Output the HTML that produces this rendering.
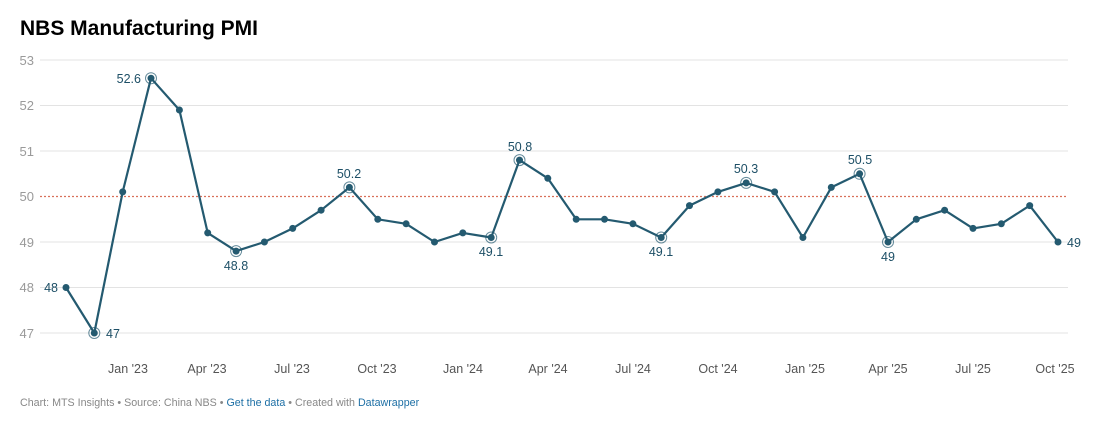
<!DOCTYPE html>
<html><head><meta charset="utf-8"><style>
body{margin:0;background:#fff;width:1105px;height:420px;overflow:hidden;font-family:"Liberation Sans",Arial,sans-serif}
</style></head><body>
<svg width="1105" height="420" xmlns="http://www.w3.org/2000/svg" font-family="Liberation Sans, Arial, sans-serif">
<text x="20" y="35" font-size="21" font-weight="bold" fill="#000">NBS Manufacturing PMI</text>
<g stroke="#e3e3e3" stroke-width="1">
<line x1="40" x2="1068" y1="60" y2="60"/><line x1="40" x2="1068" y1="105.5" y2="105.5"/>
<line x1="40" x2="1068" y1="151" y2="151"/><line x1="40" x2="1068" y1="242" y2="242"/>
<line x1="40" x2="1068" y1="287.5" y2="287.5"/><line x1="40" x2="1068" y1="333" y2="333"/>
</g>
<line x1="40" x2="1068" y1="196.5" y2="196.5" stroke="#d9705a" stroke-width="1.3" stroke-dasharray="2,2"/>
<g font-size="13" fill="#9a9a9a" text-anchor="end">
<text x="34" y="65">53</text><text x="34" y="110">52</text><text x="34" y="156">51</text>
<text x="34" y="201">50</text><text x="34" y="247">49</text><text x="34" y="292">48</text><text x="34" y="338">47</text>
</g>
<g font-size="12.5" fill="#555" text-anchor="middle">
<text x="128" y="373">Jan '23</text><text x="207" y="373">Apr '23</text><text x="292" y="373">Jul '23</text>
<text x="377" y="373">Oct '23</text><text x="463" y="373">Jan '24</text><text x="548" y="373">Apr '24</text>
<text x="633" y="373">Jul '24</text><text x="718" y="373">Oct '24</text><text x="805" y="373">Jan '25</text>
<text x="888" y="373">Apr '25</text><text x="973" y="373">Jul '25</text><text x="1055" y="373">Oct '25</text>
</g>
<polyline fill="none" stroke="#245a70" stroke-width="2.2" stroke-linejoin="round" points="66,287.5 94.3,333 122.7,191.9 151,78.2 179.4,110 207.7,232.9 236.1,251.1 264.4,242 292.7,228.4 321.1,210.2 349.4,187.4 377.8,219.3 406.1,223.8 434.5,242 462.8,232.9 491.2,237.5 519.5,160.1 547.8,178.3 576.2,219.3 604.5,219.3 632.9,223.8 661.2,237.5 689.5,205.6 717.9,191.9 746.2,182.9 774.6,191.9 802.9,237.5 831.3,187.4 859.6,173.8 888,242 916.3,219.3 944.6,210.2 973,228.4 1001.3,223.8 1029.7,205.6 1058,242"/>
<g fill="none" stroke="#245a70" stroke-width="1" opacity="0.7">
<circle cx="94.3" cy="333" r="5.5"/><circle cx="151" cy="78.2" r="5.5"/><circle cx="236.1" cy="251.1" r="5.5"/>
<circle cx="349.4" cy="187.4" r="5.5"/><circle cx="491.2" cy="237.5" r="5.5"/><circle cx="519.5" cy="160.1" r="5.5"/>
<circle cx="661.2" cy="237.5" r="5.5"/><circle cx="746.2" cy="182.9" r="5.5"/><circle cx="859.6" cy="173.8" r="5.5"/>
<circle cx="888" cy="242" r="5.5"/>
</g>
<g fill="#245a70">
<circle cx="66" cy="287.5" r="3.5"/><circle cx="94.3" cy="333" r="3.5"/><circle cx="122.7" cy="191.9" r="3.5"/><circle cx="151" cy="78.2" r="3.5"/><circle cx="179.4" cy="110" r="3.5"/><circle cx="207.7" cy="232.9" r="3.5"/><circle cx="236.1" cy="251.1" r="3.5"/><circle cx="264.4" cy="242" r="3.5"/><circle cx="292.7" cy="228.4" r="3.5"/><circle cx="321.1" cy="210.2" r="3.5"/><circle cx="349.4" cy="187.4" r="3.5"/><circle cx="377.8" cy="219.3" r="3.5"/><circle cx="406.1" cy="223.8" r="3.5"/><circle cx="434.5" cy="242" r="3.5"/><circle cx="462.8" cy="232.9" r="3.5"/><circle cx="491.2" cy="237.5" r="3.5"/><circle cx="519.5" cy="160.1" r="3.5"/><circle cx="547.8" cy="178.3" r="3.5"/><circle cx="576.2" cy="219.3" r="3.5"/><circle cx="604.5" cy="219.3" r="3.5"/><circle cx="632.9" cy="223.8" r="3.5"/><circle cx="661.2" cy="237.5" r="3.5"/><circle cx="689.5" cy="205.6" r="3.5"/><circle cx="717.9" cy="191.9" r="3.5"/><circle cx="746.2" cy="182.9" r="3.5"/><circle cx="774.6" cy="191.9" r="3.5"/><circle cx="802.9" cy="237.5" r="3.5"/><circle cx="831.3" cy="187.4" r="3.5"/><circle cx="859.6" cy="173.8" r="3.5"/><circle cx="888" cy="242" r="3.5"/><circle cx="916.3" cy="219.3" r="3.5"/><circle cx="944.6" cy="210.2" r="3.5"/><circle cx="973" cy="228.4" r="3.5"/><circle cx="1001.3" cy="223.8" r="3.5"/><circle cx="1029.7" cy="205.6" r="3.5"/><circle cx="1058" cy="242" r="3.5"/>
</g>
<g font-size="12.5" fill="#1d4f66" text-anchor="middle">
<text x="58" y="292" text-anchor="end">48</text>
<text x="106" y="338" text-anchor="start">47</text>
<text x="141" y="83" text-anchor="end">52.6</text>
<text x="236" y="270">48.8</text>
<text x="349" y="178">50.2</text>
<text x="491" y="256">49.1</text>
<text x="520" y="151">50.8</text>
<text x="661" y="256">49.1</text>
<text x="746" y="173">50.3</text>
<text x="860" y="164">50.5</text>
<text x="888" y="261">49</text>
<text x="1067" y="247" text-anchor="start">49</text>
</g>
<text x="20" y="406" font-size="10.7" fill="#888">Chart: MTS Insights • Source: China NBS • <tspan fill="#1d6fa5">Get the data</tspan> • Created with <tspan fill="#1d6fa5">Datawrapper</tspan></text>
</svg>
</body></html>
